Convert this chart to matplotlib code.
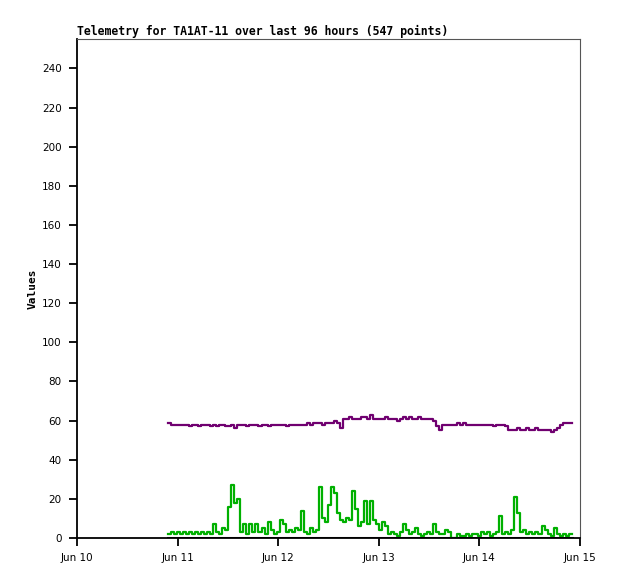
import numpy as np
import matplotlib
matplotlib.use("Agg")
import matplotlib.pyplot as plt
import matplotlib.dates as mdates
from datetime import datetime

# time span of the data (last 96 hours)
t_start = datetime(2024, 6, 10, 21, 45)
t_end = datetime(2024, 6, 14, 22, 0)

# green series
green = [2, 3, 2, 3, 2, 3, 2, 3, 2, 3, 2, 3, 2, 3, 2, 7, 3, 2, 5, 4,
         16, 27, 18, 20, 3, 7, 2, 7, 3, 7, 3, 5, 2, 8, 4, 2, 3, 9, 7, 3,
         4, 3, 5, 4, 14, 3, 2, 5, 3, 4, 26, 10, 8, 17, 26, 23, 13, 9, 8, 10,
         9, 24, 15, 6, 8, 19, 7, 19, 9, 7, 4, 8, 6, 2, 3, 2, 1, 3, 7, 4,
         2, 3, 5, 2, 1, 2, 3, 2, 7, 3, 2, 2, 4, 3, 0, 0, 2, 1, 1, 2,
         1, 2, 2, 1, 3, 2, 3, 1, 2, 3, 11, 2, 3, 2, 4, 21, 13, 3, 4, 2,
         3, 2, 3, 2, 6, 4, 2, 1, 5, 2, 1, 2, 1, 2, 2]

# purple series
purple = [59, 58, 58, 58, 58, 58, 58, 57, 58, 58, 57, 58, 58, 58, 57, 58, 57, 58, 58, 57,
          57, 58, 56, 58, 58, 58, 57, 58, 58, 58, 57, 58, 58, 57, 58, 58, 58, 58, 58, 57,
          58, 58, 58, 58, 58, 58, 59, 58, 59, 59, 59, 58, 59, 59, 59, 60, 59, 56, 61, 61,
          62, 61, 61, 61, 62, 62, 61, 63, 61, 61, 61, 61, 62, 61, 61, 61, 60, 61, 62, 61,
          62, 61, 61, 62, 61, 61, 61, 61, 60, 57, 55, 58, 58, 58, 58, 58, 59, 58, 59, 58,
          58, 58, 58, 58, 58, 58, 58, 58, 57, 58, 58, 58, 57, 55, 55, 55, 56, 55, 55, 56,
          55, 55, 56, 55, 55, 55, 55, 54, 55, 56, 58, 59, 59, 59, 59]

# black series sitting on zero
black = [0, 0, 0, 0, 0, 0, 0, 0, 0, 0]

day_ticks = [datetime(2024, 6, d) for d in range(10, 16)]


def times_for(values):
    n = len(values)
    return mdates.num2date(np.linspace(mdates.date2num(t_start), mdates.date2num(t_end), n))


fig = plt.figure(figsize=(6.18, 5.79), dpi=100)
ax = fig.add_axes([0.1246, 0.0708, 0.9385 - 0.1246, 0.9326 - 0.0708])

ax.plot(times_for(black), black, color="black", lw=2.2, drawstyle="steps-post")
ax.plot(times_for(purple), purple, color="#700070", lw=1.6, drawstyle="steps-post")
ax.plot(times_for(green), green, color="#00b000", lw=1.6, drawstyle="steps-post")

ax.set_xlim(day_ticks[0], day_ticks[-1])
ax.set_ylim(0, 255)
ax.set_yticks(range(0, 241, 20))
ax.set_xticks(day_ticks)
ax.xaxis.set_major_formatter(mdates.DateFormatter("%b %d"))

ax.tick_params(axis="both", direction="out", length=6, width=1.3, labelsize=7.5, pad=5)
for s in ["left", "bottom"]:
    ax.spines[s].set_linewidth(1.3)
    ax.spines[s].set_color("black")
for s in ["top", "right"]:
    ax.spines[s].set_color("#555555")

ax.set_title("Telemetry for TA1AT-11 over last 96 hours (547 points)", loc="left",
             family="DejaVu Sans Mono", fontweight="bold", fontsize=8.3, pad=3)
ax.set_ylabel("Values", family="DejaVu Sans Mono", fontweight="bold", fontsize=8, labelpad=3)

fig.savefig("out.png", dpi=100)
